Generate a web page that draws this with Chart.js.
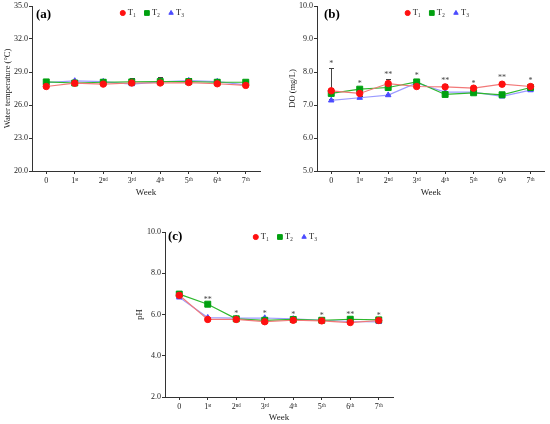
<!DOCTYPE html>
<html>
<head>
<meta charset="utf-8">
<script src="https://cdn.jsdelivr.net/npm/chart.js@4.4.1/dist/chart.umd.min.js"></script>
<style>
    html, body { margin: 0; padding: 0; background: #fff; }
    #page { position: relative; width: 550px; height: 424px; overflow: hidden; }
    .panel { position: absolute; }
</style>
</head>
<body>
<div id="page">
    <div class="panel" style="left:0;top:0;width:275px;height:205px"><canvas id="temp-chart"></canvas></div>
    <div class="panel" style="left:275px;top:0;width:275px;height:205px"><canvas id="do-chart"></canvas></div>
    <div class="panel" style="left:130px;top:220px;width:290px;height:204px"><canvas id="ph-chart"></canvas></div>
</div>
<script>
// Dados
const weeks = ['0', '1ˢᵗ', '2ⁿᵈ', '3ʳᵈ', '4ᵗʰ', '5ᵗʰ', '6ᵗʰ', '7ᵗʰ'];
const seriesNames = ['T₁', 'T₂', 'T₃'];

// (a) temperatura da água
const tempT1 = [27.68, 27.98, 27.90, 28.00, 28.00, 28.04, 27.93, 27.78];
const tempT2 = [28.10, 28.00, 28.07, 28.10, 28.13, 28.13, 28.07, 28.07];
const tempT3 = [28.04, 28.19, 28.13, 27.90, 28.10, 28.22, 28.13, 27.83];
const tempErrT1 = [0.05, 0.05, 0.05, 0.05, 0.05, 0.05, 0.05, 0.05];
const tempErrT2 = [0.08, 0.08, 0.30, 0.36, 0.39, 0.30, 0.33, 0.08];
const tempErrT3 = [0.05, 0.05, 0.10, 0.10, 0.10, 0.10, 0.10, 0.05];

// (b) oxigênio dissolvido
const doT1 = [7.43, 7.35, 7.65, 7.56, 7.55, 7.51, 7.63, 7.56];
const doT2 = [7.35, 7.48, 7.53, 7.70, 7.32, 7.37, 7.31, 7.53];
const doT3 = [7.14, 7.22, 7.30, 7.67, 7.39, 7.39, 7.26, 7.45];
const doErrT1 = [0.10, 0.04, 0.13, 0.04, 0.10, 0.04, 0.06, 0.04];
const doErrT2 = [0.78, 0.04, 0.04, 0.04, 0.04, 0.04, 0.04, 0.04];
const doErrT3 = [0.04, 0.04, 0.04, 0.04, 0.04, 0.04, 0.04, 0.04];
const doSig = ['*', '*', '**', '*', '**', '*', '**', '*'];
const doSigY = [8.30, 7.70, 7.97, 7.93, 7.78, 7.69, 7.87, 7.78];

// (c) pH
const phT1 = [6.93, 5.76, 5.76, 5.65, 5.72, 5.69, 5.61, 5.71];
const phT2 = [6.99, 6.50, 5.79, 5.72, 5.76, 5.72, 5.77, 5.74];
const phT3 = [6.83, 5.85, 5.82, 5.83, 5.79, 5.72, 5.66, 5.64];
const phErrT1 = [0.03, 0.03, 0.03, 0.03, 0.03, 0.03, 0.03, 0.03];
const phErrT2 = [0.03, 0.03, 0.03, 0.03, 0.03, 0.03, 0.03, 0.03];
const phErrT3 = [0.03, 0.03, 0.03, 0.03, 0.03, 0.03, 0.03, 0.03];
const phSig = ['', '**', '*', '*', '*', '*', '**', '*'];
const phSigY = [null, 6.80, 6.13, 6.13, 6.10, 6.05, 6.10, 6.05];

// Estilos
const FONT = "'Liberation Serif', 'DejaVu Serif', serif";
const axisColor = '#333';
const lineColors = ['#f27878', '#2db82d', '#9b9bff'];
const pointColors = ['#ff1010', '#00a010', '#4b4bff'];
const pointStyles = ['circle', 'rect', 'triangle'];
const pointRadii = [3.2, 4.2, 3.2];

// Barras de erro, asteriscos, rótulo do painel e legenda
const decorPlugin = {
    id: 'decor',
    beforeDatasetsDraw(chart) {
        const ctx = chart.ctx;
        const xs = chart.scales.x, ys = chart.scales.y;
        ctx.save();
        ctx.strokeStyle = '#444';
        ctx.lineWidth = 1;
        chart.data.datasets.forEach(ds => {
            (ds.errorBars || []).forEach((e, j) => {
                if (!e) return;
                const x = Math.round(xs.getPixelForValue(j)) + 0.5;
                const y0 = ys.getPixelForValue(ds.data[j]);
                const y1 = Math.round(ys.getPixelForValue(ds.data[j] + e)) + 0.5;
                ctx.beginPath();
                ctx.moveTo(x, y0);
                ctx.lineTo(x, y1);
                ctx.moveTo(x - 2.5, y1);
                ctx.lineTo(x + 2.5, y1);
                ctx.stroke();
            });
        });
        ctx.restore();
    },
    afterDatasetsDraw(chart, args, opts) {
        const ctx = chart.ctx;
        const area = chart.chartArea;
        const xs = chart.scales.x, ys = chart.scales.y;
        ctx.save();

        // asteriscos de significância
        if (opts.sig) {
            ctx.fillStyle = '#444';
            ctx.font = `8px ${FONT}`;
            ctx.textAlign = 'center';
            ctx.textBaseline = 'middle';
            opts.sig.forEach((s, j) => {
                if (!s) return;
                ctx.fillText(s, xs.getPixelForValue(j), ys.getPixelForValue(opts.sigY[j]) + 2);
            });
        }

        // rótulo do painel
        ctx.fillStyle = '#000';
        ctx.font = `bold 13px ${FONT}`;
        ctx.textAlign = 'left';
        ctx.textBaseline = 'middle';
        ctx.fillText(opts.label, area.left + opts.labelDx, area.top + opts.labelDy);

        // legenda dentro da área
        ctx.font = `8.5px ${FONT}`;
        const items = chart.data.datasets.map(ds => ({
            ds, w: 6 + ctx.measureText(ds.label).width
        }));
        const gap = 10;
        const total = items.reduce((a, it) => a + it.w, 0) + gap * (items.length - 1);
        let x = (area.left + area.right) / 2 + 8 - total / 2;
        const y = area.top + opts.legendDy;
        items.forEach(it => {
            ctx.fillStyle = it.ds.pointBackgroundColor;
            ctx.strokeStyle = it.ds.pointBackgroundColor;
            Chart.helpers.drawPoint(ctx, {
                pointStyle: it.ds.pointStyle,
                radius: it.ds.pointRadius * 0.8,
                rotation: 0,
                borderWidth: 1
            }, x, y);
            ctx.fillStyle = '#222';
            ctx.fillText(it.ds.label, x + 5, y);
            x += it.w + gap;
        });
        ctx.restore();
    }
};

function makeChart(id, cfg) {
    const canvas = document.getElementById(id);
    const tickFont = { family: FONT, size: 8 };
    const titleFont = { family: FONT, size: 8.5 };
    const grid = {
        display: true, drawOnChartArea: false, drawTicks: true,
        tickLength: 3, color: axisColor, offset: false
    };
    const border = { display: true, color: axisColor, width: 1 };

    return new Chart(canvas.getContext('2d'), {
        type: 'line',
        data: {
            labels: weeks,
            datasets: cfg.series.map((s, i) => ({
                label: seriesNames[i],
                data: s,
                errorBars: cfg.errors[i],
                borderColor: lineColors[i],
                backgroundColor: pointColors[i],
                pointBackgroundColor: pointColors[i],
                pointBorderColor: pointColors[i],
                pointStyle: pointStyles[i],
                pointRadius: pointRadii[i],
                pointBorderWidth: 1,
                borderWidth: 1.2,
                tension: 0
            }))
        },
        options: {
            animation: false,
            responsive: true,
            maintainAspectRatio: false,
            layout: { padding: { left: 0, top: cfg.area.top, right: cfg.area.right, bottom: 0 } },
            plugins: {
                legend: { display: false },
                tooltip: { enabled: false },
                decor: cfg.decor
            },
            scales: {
                x: {
                    type: 'category',
                    offset: true,
                    grid, border,
                    ticks: { font: tickFont, color: '#222', padding: 2, maxRotation: 0, autoSkip: false },
                    title: { display: true, text: 'Week', font: { family: FONT, size: 9 }, color: '#222',
                             padding: { top: 0, bottom: cfg.area.weekPad } },
                    afterFit: s => { s.height = cfg.area.xHeight; }
                },
                y: {
                    min: cfg.y.min, max: cfg.y.max,
                    grid, border,
                    ticks: { stepSize: cfg.y.step, font: tickFont, color: '#222', padding: 1,
                             callback: v => Number(v).toFixed(1) },
                    title: { display: true, text: cfg.y.title, font: titleFont, color: '#222',
                             padding: { top: cfg.area.yTitlePad, bottom: 0 } },
                    afterFit: s => { s.width = cfg.area.left; }
                }
            }
        },
        plugins: [decorPlugin]
    });
}

makeChart('temp-chart', {
    series: [tempT1, tempT2, tempT3],
    errors: [tempErrT1, tempErrT2, tempErrT3],
    y: { min: 20, max: 35, step: 3, title: 'Water temperature (°C)' },
    area: { left: 32, top: 6, right: 15, xHeight: 34, weekPad: 7, yTitlePad: 3 },
    decor: { label: '(a)', labelDx: 4, labelDy: 9, legendDy: 7 }
});

makeChart('do-chart', {
    series: [doT1, doT2, doT3],
    errors: [doErrT1, doErrT2, doErrT3],
    y: { min: 5, max: 10, step: 1, title: 'DO (mg/L)' },
    area: { left: 42, top: 6, right: 4, xHeight: 34, weekPad: 7, yTitlePad: 13 },
    decor: { label: '(b)', labelDx: 7, labelDy: 9, legendDy: 7, sig: doSig, sigY: doSigY }
});

makeChart('ph-chart', {
    series: [phT1, phT2, phT3],
    errors: [phErrT1, phErrT2, phErrT3],
    y: { min: 2, max: 10, step: 2, title: 'pH' },
    area: { left: 35, top: 12, right: 27, xHeight: 27, weekPad: 1, yTitlePad: 5 },
    decor: { label: '(c)', labelDx: 3, labelDy: 5, legendDy: 5, sig: phSig, sigY: phSigY }
});
</script>
</body>
</html>
